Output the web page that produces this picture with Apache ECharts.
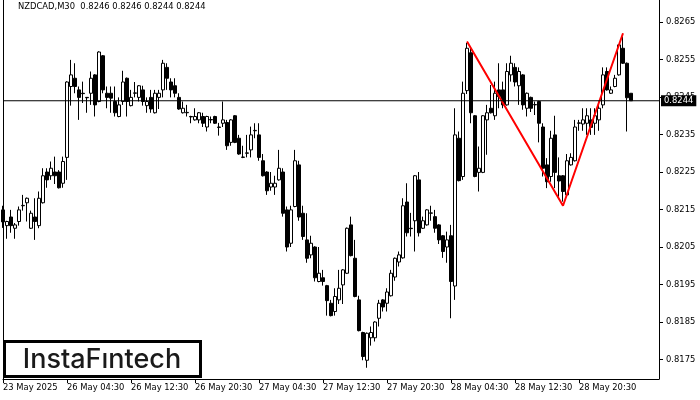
<!DOCTYPE html>
<html>
<head>
<meta charset="utf-8">
<script src="https://cdn.jsdelivr.net/npm/echarts@6/dist/echarts.min.js"></script>
<style>
html,body{margin:0;padding:0;background:#fff;}
#chart{width:700px;height:400px;}
</style>
</head>
<body>
<div id="chart"></div>
<script>
const symbolName = 'NZDCAD,M30';
const tickLabels = ['23 May 2025','26 May 04:30','26 May 12:30','26 May 20:30','27 May 04:30','27 May 12:30','27 May 20:30','28 May 04:30','28 May 12:30','28 May 20:30'];
const priceTicks = [0.8175,0.8185,0.8195,0.8205,0.8215,0.8225,0.8235,0.8245,0.8255,0.8265];
// [open, close, low, high]
const candles = [
[0.82149,0.82117,0.82101,0.82160],[0.82107,0.82118,0.82072,0.82120],[0.82130,0.82107,0.82088,0.82149],[0.82100,0.82109,0.82072,0.82114],
[0.82118,0.82149,0.82107,0.82158],[0.82160,0.82161,0.82147,0.82189],[0.82168,0.82180,0.82118,0.82182],[0.82100,0.82140,0.82098,0.82147],
[0.82130,0.82118,0.82069,0.82180],[0.82107,0.82180,0.82100,0.82198],[0.82168,0.82240,0.82166,0.82260],[0.82250,0.82229,0.82208,0.82260],
[0.82240,0.82260,0.82229,0.82278],[0.82250,0.82240,0.82218,0.82291],[0.82250,0.82208,0.82206,0.82255],[0.82220,0.82278,0.82208,0.82291],
[0.82289,0.82490,0.82229,0.82492],[0.82478,0.82509,0.82427,0.82549],[0.82500,0.82478,0.82460,0.82540],[0.82469,0.82449,0.82389,0.82478],
[0.82460,0.82459,0.82434,0.82491],[0.82449,0.82448,0.82408,0.82450],[0.82460,0.82500,0.82429,0.82518],[0.82509,0.82429,0.82398,0.82511],
[0.82438,0.82570,0.82436,0.82572],[0.82560,0.82469,0.82460,0.82562],[0.82460,0.82449,0.82420,0.82478],[0.82460,0.82447,0.82408,0.82478],
[0.82438,0.82408,0.82398,0.82478],[0.82398,0.82429,0.82396,0.82449],[0.82438,0.82490,0.82429,0.82520],[0.82500,0.82438,0.82398,0.82502],
[0.82427,0.82449,0.82425,0.82469],[0.82460,0.82461,0.82449,0.82490],[0.82449,0.82480,0.82438,0.82482],[0.82469,0.82438,0.82427,0.82480],
[0.82427,0.82438,0.82408,0.82449],[0.82449,0.82418,0.82408,0.82469],[0.82408,0.82460,0.82406,0.82469],[0.82449,0.82460,0.82418,0.82469],
[0.82469,0.82540,0.82449,0.82549],[0.82529,0.82500,0.82469,0.82540],[0.82490,0.82469,0.82449,0.82500],[0.82480,0.82460,0.82449,0.82500],
[0.82449,0.82418,0.82416,0.82460],[0.82408,0.82420,0.82406,0.82438],[0.82408,0.82409,0.82398,0.82429],[0.82398,0.82397,0.82380,0.82400],
[0.82389,0.82398,0.82387,0.82420],[0.82389,0.82408,0.82380,0.82410],[0.82398,0.82380,0.82370,0.82408],[0.82370,0.82398,0.82358,0.82400],
[0.82389,0.82390,0.82380,0.82398],[0.82398,0.82380,0.82378,0.82400],[0.82370,0.82369,0.82347,0.82381],[0.82380,0.82389,0.82370,0.82438],
[0.82382,0.82320,0.82309,0.82389],[0.82329,0.82389,0.82320,0.82391],[0.82400,0.82329,0.82327,0.82402],[0.82340,0.82298,0.82296,0.82349],
[0.82289,0.82290,0.82287,0.82320],[0.82300,0.82301,0.82289,0.82349],[0.82309,0.82349,0.82289,0.82371],[0.82360,0.82361,0.82340,0.82380],
[0.82349,0.82289,0.82280,0.82380],[0.82280,0.82240,0.82238,0.82298],[0.82250,0.82200,0.82189,0.82252],[0.82210,0.82220,0.82200,0.82250],
[0.82210,0.82220,0.82189,0.82240],[0.82229,0.82260,0.82227,0.82309],[0.82250,0.82140,0.82131,0.82260],[0.82149,0.82050,0.82038,0.82158],
[0.82060,0.82149,0.82050,0.82160],[0.82158,0.82280,0.82156,0.82309],[0.82269,0.82130,0.82120,0.82280],[0.82140,0.82078,0.82069,0.82160],
[0.82069,0.82020,0.82008,0.82140],[0.82029,0.82060,0.82020,0.82080],[0.82050,0.81968,0.81958,0.82052],[0.81958,0.81980,0.81956,0.82050],
[0.81968,0.81958,0.81947,0.81989],[0.81947,0.81907,0.81867,0.81949],[0.81900,0.81867,0.81865,0.81909],[0.81878,0.81918,0.81867,0.81940],
[0.81909,0.81940,0.81898,0.81989],[0.81949,0.81989,0.81898,0.81991],[0.81980,0.82100,0.81978,0.82102],[0.82109,0.82027,0.82025,0.82131],
[0.82020,0.81918,0.81916,0.82069],[0.81909,0.81827,0.81825,0.81920],[0.81822,0.81758,0.81748,0.81824],[0.81748,0.81820,0.81728,0.81822],
[0.81808,0.81822,0.81787,0.81838],[0.81808,0.81850,0.81798,0.81852],[0.81860,0.81900,0.81838,0.81909],[0.81909,0.81890,0.81878,0.81911],
[0.81900,0.81930,0.81878,0.81940],[0.81920,0.81980,0.81918,0.81989],[0.81970,0.82020,0.81960,0.82022],[0.82010,0.82029,0.81998,0.82038],
[0.82021,0.82160,0.82019,0.82180],[0.82170,0.82088,0.82078,0.82220],[0.82100,0.82099,0.82078,0.82141],[0.82120,0.82240,0.82038,0.82242],
[0.82229,0.82088,0.82078,0.82250],[0.82100,0.82120,0.82098,0.82131],[0.82109,0.82149,0.82107,0.82151],[0.82140,0.82141,0.82120,0.82160],
[0.82131,0.82100,0.82088,0.82149],[0.82109,0.82069,0.82058,0.82111],[0.82080,0.82038,0.82021,0.82082],[0.82050,0.82069,0.82008,0.82091],
[0.82080,0.81958,0.81860,0.82109],[0.81946,0.82349,0.81909,0.82420],[0.82340,0.82227,0.82225,0.82358],[0.82238,0.82460,0.82229,0.82491],
[0.82467,0.82580,0.82458,0.82594],[0.82568,0.82408,0.82380,0.82580],[0.82400,0.82238,0.82236,0.82402],[0.82249,0.82260,0.82198,0.82318],
[0.82249,0.82400,0.82247,0.82402],[0.82389,0.82408,0.82296,0.82429],[0.82420,0.82408,0.82406,0.82482],[0.82400,0.82460,0.82389,0.82491],
[0.82469,0.82451,0.82420,0.82540],[0.82469,0.82429,0.82420,0.82491],[0.82429,0.82518,0.82427,0.82540],[0.82509,0.82540,0.82491,0.82560],
[0.82529,0.82490,0.82478,0.82540],[0.82480,0.82518,0.82429,0.82529],[0.82509,0.82429,0.82416,0.82511],[0.82420,0.82460,0.82398,0.82462],
[0.82449,0.82420,0.82410,0.82451],[0.82429,0.82430,0.82402,0.82438],[0.82438,0.82380,0.82329,0.82440],[0.82370,0.82260,0.82238,0.82380],
[0.82269,0.82224,0.82207,0.82287],[0.82238,0.82340,0.82224,0.82360],[0.82349,0.82249,0.82207,0.82400],[0.82240,0.82226,0.82184,0.82289],
[0.82240,0.82198,0.82171,0.82242],[0.82189,0.82280,0.82187,0.82298],[0.82269,0.82289,0.82267,0.82300],[0.82280,0.82370,0.82278,0.82389],
[0.82380,0.82381,0.82360,0.82389],[0.82378,0.82389,0.82360,0.82420],[0.82380,0.82400,0.82349,0.82420],[0.82389,0.82369,0.82349,0.82420],
[0.82380,0.82400,0.82349,0.82420],[0.82389,0.82420,0.82360,0.82438],[0.82429,0.82509,0.82420,0.82529],[0.82518,0.82469,0.82467,0.82529],
[0.82460,0.82469,0.82458,0.82478],[0.82478,0.82500,0.82476,0.82509],[0.82509,0.82589,0.82507,0.82591],[0.82580,0.82540,0.82538,0.82611],
[0.82540,0.82448,0.82358,0.82542],[0.8246,0.8244,0.8244,0.8246]
];
// double-top pattern vertices: [candle index, price]
const patternPoints = [[116,0.82598],[140,0.82160],[155,0.82620]];
const emptySlots = 7;

const categories = [];
for (let i = 0; i < candles.length + emptySlots; i++) categories.push(String(i));
const last = candles[candles.length - 1];
const lastClose = last[1];
const priceLine = [[0, lastClose], [categories.length - 1, lastClose]];
const showTick = (i) => i % 16 === 0 && (i / 16) < tickLabels.length;
const yMin = 0.81698, yMax = 0.827087;
const font = 'DejaVu Sans';

const chart = echarts.init(document.getElementById('chart'), null, {renderer: 'canvas'});
chart.setOption({
  animation: false,
  backgroundColor: '#fff',
  grid: {left: 3, right: 41, top: 0, bottom: 21},
  xAxis: {
    type: 'category', data: categories, boundaryGap: false,
    axisLine: {show: true, onZero: false, lineStyle: {color: '#000', width: 1}},
    axisTick: {show: true, length: 4, interval: (i) => showTick(i), lineStyle: {color: '#000'}},
    axisLabel: {interval: (i) => showTick(i), formatter: (v, i) => tickLabels[i / 16] || '',
      align: 'left', color: '#000', fontFamily: font, fontSize: 8.4, margin: 5},
    splitLine: {show: false}
  },
  yAxis: [{
    type: 'value', position: 'right', min: yMin, max: yMax,
    axisLine: {show: true, lineStyle: {color: '#000', width: 1}},
    axisTick: {show: true, length: 4, customValues: priceTicks, lineStyle: {color: '#000'}},
    axisLabel: {customValues: priceTicks, formatter: (v) => v.toFixed(4), color: '#000',
      fontFamily: font, fontSize: 8.4, margin: 7},
    splitLine: {show: false}
  }, {
    type: 'value', position: 'left', min: yMin, max: yMax,
    axisLine: {show: true, lineStyle: {color: '#000', width: 1}},
    axisTick: {show: false}, axisLabel: {show: false}, splitLine: {show: false}
  }],
  series: [{
    type: 'candlestick', data: candles, barWidth: 3, z: 2,
    itemStyle: {color: '#fff', color0: '#000', borderColor: '#000', borderColor0: '#000', borderWidth: 1}
  }, {
    type: 'line', data: patternPoints, symbol: 'none', z: 5,
    lineStyle: {color: '#ff0000', width: 2}
  }, {
    type: 'line', data: priceLine, symbol: 'none', zlevel: 1, z: 10, silent: true,
    lineStyle: {color: '#000', width: 1},
    endLabel: {show: true, formatter: lastClose.toFixed(4), backgroundColor: '#000',
      color: '#fff', fontFamily: font, fontSize: 8.4, padding: [2, 3, 1, 3], distance: 2}
  }],
  graphic: [{
    type: 'text', left: 18, top: 3,
    style: {text: symbolName + '  ' + [last[0], last[3], last[2], last[1]].map(v => v.toFixed(4)).join(' '),
      fill: '#000', font: '8.4px "DejaVu Sans"'}
  }, {
    type: 'rect', shape: {x: 4.5, y: 341.5, width: 196, height: 35},
    style: {fill: '#fff', stroke: '#000', lineWidth: 3}
  }, {
    type: 'text', x: 102, y: 360,
    style: {text: 'InstaF\u0131ntech', fill: '#1a1a1a', font: '500 27px Inter', textAlign: 'center', textVerticalAlign: 'middle'}
  }]
});
</script>
</body>
</html>
